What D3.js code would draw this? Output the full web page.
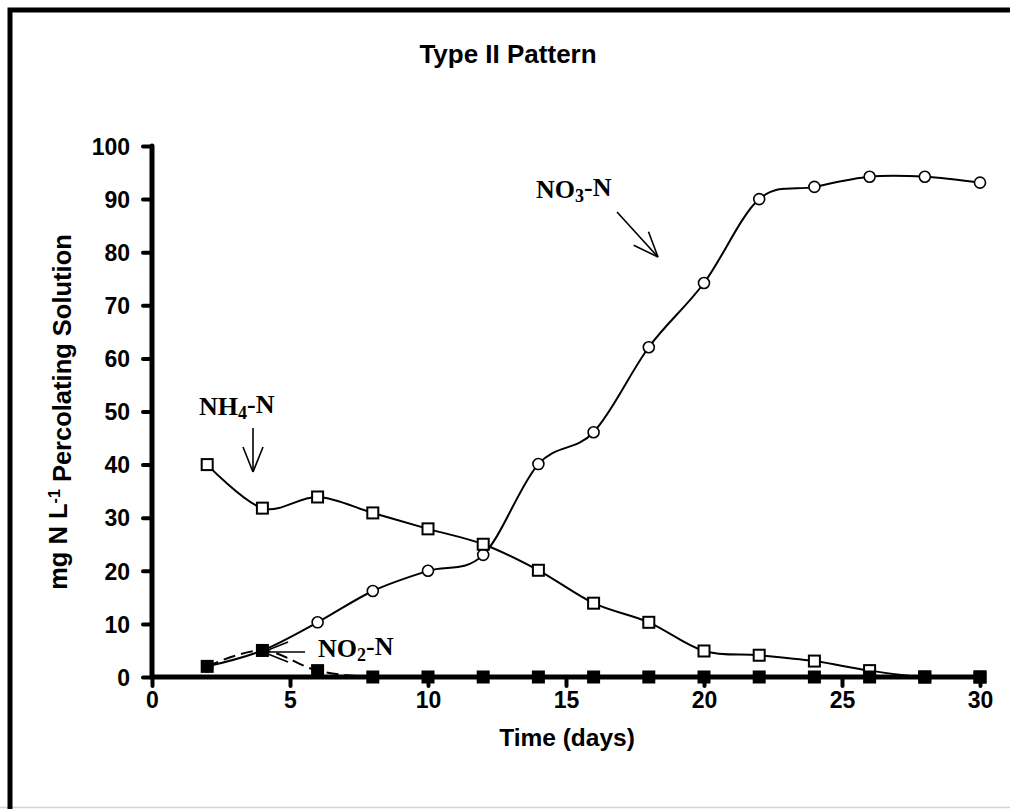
<!DOCTYPE html>
<html>
<head>
<meta charset="utf-8">
<script src="https://cdn.jsdelivr.net/npm/d3@7"></script>
<style>
  html, body { margin: 0; padding: 0; background: #fff; }
  svg { display: block; }
  .tick text { font-family: "Liberation Sans", Arial, sans-serif; font-weight: bold; }
</style>
</head>
<body>
<svg id="chart" width="1010" height="809"></svg>
<script>
// Sampling days
const days = [2, 4, 6, 8, 10, 12, 14, 16, 18, 20, 22, 24, 26, 28, 30];

// Concentrations (mg N per litre of percolating solution)
const nh4 = [40, 31.8, 33.9, 30.9, 27.9, 25, 20.1, 13.9, 10.3, 4.9, 4.1, 3, 1.2, 0, 0];
const no3 = [2, 5, 10.3, 16.2, 20, 23, 40.1, 46.1, 62.1, 74.2, 90, 92.3, 94.2, 94.2, 93.1];
const no2 = [2, 5, 1.2, 0, 0, 0, 0, 0, 0, 0, 0, 0, 0, 0, 0];

// Axis ticks
const xTicks = [0, 5, 10, 15, 20, 25, 30];
const yTicks = [0, 10, 20, 30, 40, 50, 60, 70, 80, 90, 100];

const svg = d3.select("#chart");
const W = 1010, H = 809;

// Frame: heavy left/top rule, light bottom rule
svg.append("line").attr("x1", 0).attr("x2", W).attr("y1", 807.5).attr("y2", 807.5)
  .attr("stroke", "#d4d4d4").attr("stroke-width", 1.5);
svg.append("path").attr("d", `M10,${H} L10,10 L${W},10`)
  .attr("fill", "none").attr("stroke", "#000").attr("stroke-width", 5);

const x = d3.scaleLinear().domain([0, 30]).range([152, 980]);
const y = d3.scaleLinear().domain([0, 100]).range([677, 146]);

// Title
svg.append("text").attr("x", 508).attr("y", 63).attr("text-anchor", "middle")
  .style("font-family", "Liberation Sans, Arial, sans-serif").style("font-weight", "bold")
  .style("font-size", "26px").text("Type II Pattern");

// Axes
const xAxis = d3.axisBottom(x).tickValues(xTicks).tickSize(9).tickPadding(6).tickFormat(d3.format("d"));
const yAxis = d3.axisLeft(y).tickValues(yTicks).tickSize(9).tickPadding(13).tickFormat(d3.format("d"));

const gx = svg.append("g").attr("transform", `translate(0,${y(0)})`).call(xAxis);
const gy = svg.append("g").attr("transform", `translate(${x(0)},0)`).call(yAxis);

[gx, gy].forEach(g => {
  g.select(".domain").remove();
  g.selectAll(".tick line").attr("stroke", "#000").attr("stroke-width", 4).attr("stroke-linecap", "round");
  g.selectAll(".tick text").style("font-size", "23px").attr("fill", "#000");
});
gy.selectAll(".tick text").attr("dy", "0.36em");

// Axis lines
svg.append("line").attr("x1", x(0)).attr("x2", x(30)).attr("y1", y(0)).attr("y2", y(0))
  .attr("stroke", "#000").attr("stroke-width", 5).attr("stroke-linecap", "round");
svg.append("line").attr("x1", x(0)).attr("x2", x(0)).attr("y1", y(0)).attr("y2", y(100))
  .attr("stroke", "#000").attr("stroke-width", 5).attr("stroke-linecap", "round");

// Axis titles
svg.append("text").attr("x", 567).attr("y", 746).attr("text-anchor", "middle")
  .style("font-family", "Liberation Sans, Arial, sans-serif").style("font-weight", "bold")
  .style("font-size", "24.5px").text("Time (days)");

const yl = svg.append("text").attr("transform", "translate(67,412) rotate(-90)")
  .attr("text-anchor", "middle")
  .style("font-family", "Liberation Sans, Arial, sans-serif").style("font-weight", "bold")
  .style("font-size", "25.5px");
yl.append("tspan").text("mg N L");
yl.append("tspan").attr("dy", "-0.45em").style("font-size", "16px").text("-1");
yl.append("tspan").attr("dy", "0.45em").text(" Percolating Solution");

// Series lines
const pts = vals => days.map((d, i) => [d, vals[i]]);
const line = d3.line().x(d => x(d[0])).y(d => y(d[1])).curve(d3.curveCatmullRom.alpha(0));

svg.append("path").attr("d", line(pts(no3))).attr("fill", "none")
  .attr("stroke", "#000").attr("stroke-width", 2);
svg.append("path").attr("d", line(pts(nh4))).attr("fill", "none")
  .attr("stroke", "#000").attr("stroke-width", 2);
svg.append("path").attr("d", line(pts(no2))).attr("fill", "none")
  .attr("stroke", "#000").attr("stroke-width", 2).attr("stroke-dasharray", "12,6");

// Markers
svg.append("g").selectAll("circle").data(pts(no3)).join("circle")
  .attr("cx", d => x(d[0])).attr("cy", d => y(d[1])).attr("r", 5.5)
  .attr("fill", "#fff").attr("stroke", "#000").attr("stroke-width", 1.6);

svg.append("g").selectAll("rect").data(pts(nh4)).join("rect")
  .attr("x", d => x(d[0]) - 5.5).attr("y", d => y(d[1]) - 5.5)
  .attr("width", 11).attr("height", 11)
  .attr("fill", "#fff").attr("stroke", "#000").attr("stroke-width", 2);

svg.append("g").selectAll("rect").data(pts(no2)).join("rect")
  .attr("x", d => x(d[0]) - 6.5).attr("y", d => y(d[1]) - 6.5)
  .attr("width", 13).attr("height", 13)
  .attr("fill", "#000");

// Species labels with arrows
function label(px, py, main, sub, tail) {
  const t = svg.append("text").attr("x", px).attr("y", py)
    .style("font-family", "Liberation Serif, Times New Roman, serif").style("font-weight", "bold")
    .style("font-size", "26px");
  t.append("tspan").text(main);
  t.append("tspan").attr("dy", "0.22em").style("font-size", "18px").text(sub);
  t.append("tspan").attr("dy", "-0.22em").text(tail);
}
function arrow(x1, y1, x2, y2) {
  const g = svg.append("g").attr("stroke", "#000").attr("stroke-width", 1.6).attr("fill", "none");
  g.append("line").attr("x1", x1).attr("y1", y1).attr("x2", x2).attr("y2", y2);
  const a = Math.atan2(y2 - y1, x2 - x1), L = 27, s = 0.38;
  [a + Math.PI - s, a + Math.PI + s].forEach(b => {
    g.append("line").attr("x1", x2).attr("y1", y2)
      .attr("x2", x2 + L * Math.cos(b)).attr("y2", y2 + L * Math.sin(b));
  });
}

label(536, 198, "NO", "3", "-N");
arrow(617, 212, 658, 257);

label(199, 415, "NH", "4", "-N");
arrow(253, 428, 253, 472);

label(318, 657, "NO", "2", "-N");
arrow(305, 652, 263, 652);
</script>
</body>
</html>
